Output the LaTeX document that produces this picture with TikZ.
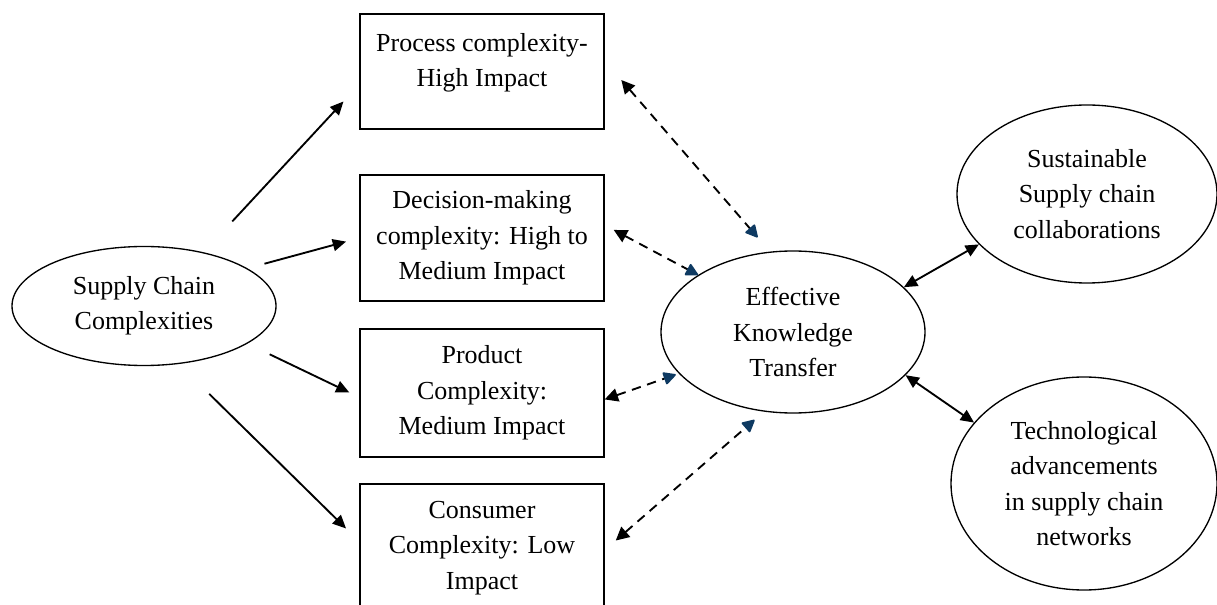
\documentclass[tikz,border=0pt]{standalone}
\usepackage{fontspec}
\setmainfont{Liberation Serif}
\usetikzlibrary{shapes.geometric,arrows.meta}
\definecolor{tipblue}{RGB}{14,58,98}

\begin{document}
\begin{tikzpicture}[x=0.75pt,y=-0.75pt,
  font=\fontsize{19.5}{26.5}\selectfont,
  box/.style={rectangle,draw,line width=1pt,minimum width=183pt,align=center,inner sep=0pt},
  oval/.style={ellipse,draw,line width=1pt,align=center,inner sep=0pt},
  push/.style={line width=1.4pt,-{Triangle[length=10pt,width=9pt]}},
  both/.style={line width=1.4pt,{Triangle[length=10pt,width=9pt]}-{Triangle[length=10pt,width=9pt]}},
  link/.style={line width=1.4pt,dash pattern=on 7pt off 5pt,
    {Triangle[length=10pt,width=10pt]}-{Triangle[length=10pt,width=10pt,round,color=tipblue]}}]

  \useasboundingbox (0,0) rectangle (1217,605);
  \clip (0,0) rectangle (1217,605);

  \node[oval,minimum width=198pt,minimum height=89.25pt] (scc) at (144,306) {Supply Chain\\Complexities};

  \node[box,minimum height=86.25pt,text depth=17.5pt] (pc) at (482,71.5) {Process complexity-\\High Impact};
  \node[box,minimum height=94.5pt] (dm) at (482,238) {Decision-making\\complexity: High to\\Medium Impact};
  \node[box,minimum height=96pt] (prc) at (482,393) {Product\\Complexity:\\Medium Impact};
  \node[box,minimum height=96pt] (cc) at (482,548) {Consumer\\Complexity: Low\\Impact};

  \node[oval,minimum width=198pt,minimum height=121.5pt] (ekt) at (793,332) {Effective\\Knowledge\\Transfer};
  \node[oval,minimum width=195pt,minimum height=133.5pt] (sus) at (1087,194) {Sustainable\\Supply chain\\collaborations};
  \node[oval,minimum width=199.5pt,minimum height=159.75pt] (tech) at (1084,483.5) {Technological\\advancements\\in supply chain\\networks};

  \path
   (scc.42) edge[push,shorten <=31.5pt,shorten >=17.5pt] (pc.186)
   (scc.20) edge[push,shorten <=13.2pt,shorten >=10.3pt] (dm.west)
   (scc.340) edge[push,shorten <=18.5pt,shorten >=8.3pt] (prc.182)
   (scc.301) edge[push,shorten <=31.9pt,shorten >=14pt] (cc.177)
   (pc.5) edge[link,shorten <=19.1pt,shorten >=14.1pt] (ekt.106)
   (dm.6) edge[link,shorten <=7.7pt] (ekt.149)
   (prc.357) edge[link,shorten >=2.4pt] (ekt.200)
   (cc.359) edge[link,shorten <=11pt,shorten >=9.4pt] (ekt.250)
   (ekt.22) edge[both] (sus.205)
   (ekt.339) edge[both] (tech.151);
\end{tikzpicture}
\end{document}
